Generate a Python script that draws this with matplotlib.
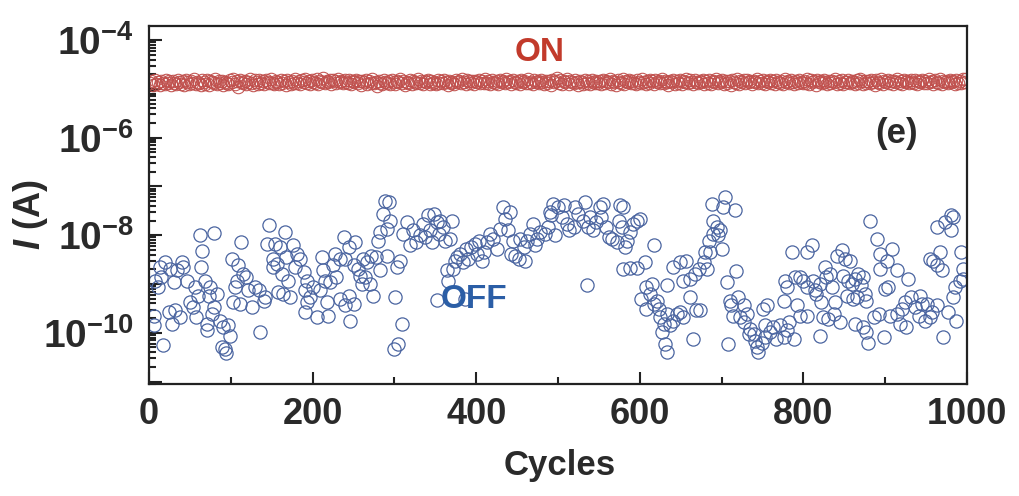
import matplotlib
matplotlib.use('Agg')
import matplotlib.pyplot as plt
import numpy as np
from matplotlib.ticker import LogLocator, MultipleLocator, FuncFormatter, NullFormatter

plt.rcParams['font.family'] = ['Liberation Sans', 'DejaVu Sans']
plt.rcParams['mathtext.fontset'] = 'custom'
plt.rcParams['mathtext.rm'] = 'Liberation Sans:bold'
plt.rcParams['mathtext.bf'] = 'Liberation Sans:bold'
plt.rcParams['mathtext.it'] = 'Liberation Sans:bold:italic'
plt.rcParams['mathtext.bfit'] = 'Liberation Sans:bold:italic'
plt.rcParams['axes.unicode_minus'] = False

# ---------------- data ----------------
on_step = 2  # ON state read every 2 cycles
on_current_e5 = [  # ON current, in units of 1e-5 A
    1.32,1.45,1.22,1.51,1.28,1.40,1.18,1.47,1.35,1.26,1.55,1.30,1.42,1.20,1.48,1.33,1.25,1.52,1.38,1.29,1.44,1.21,1.50,1.36,1.27,
    1.46,1.31,1.58,1.24,1.41,1.34,1.19,1.49,1.37,1.28,1.53,1.23,1.45,1.39,1.30,1.56,1.26,1.43,1.33,1.48,1.22,1.40,1.35,1.29,1.51,
    1.38,1.62,1.27,1.44,1.11,1.52,1.36,1.30,1.47,1.25,1.41,1.57,1.32,1.20,1.49,1.37,1.28,1.54,1.34,1.43,1.26,1.50,1.39,1.31,1.60,
    1.35,1.24,1.48,1.40,1.29,1.55,1.33,1.45,1.21,1.52,1.38,1.27,1.46,1.34,1.58,1.30,1.42,1.25,1.50,1.37,1.63,1.32,1.44,1.28,1.53,
    1.41,1.35,1.60,1.27,1.48,1.39,1.66,1.31,1.45,1.36,1.54,1.29,1.50,1.42,1.33,1.57,1.38,1.46,1.30,1.52,1.40,1.34,1.49,1.26,1.44,
    1.37,1.55,1.31,1.47,1.23,1.42,1.36,1.51,1.28,1.45,1.34,1.58,1.30,1.40,1.14,1.48,1.35,1.27,1.53,1.39,1.32,1.46,1.25,1.50,1.38,
    1.29,1.44,1.36,1.56,1.31,1.48,1.22,1.41,1.35,1.53,1.27,1.45,1.38,1.30,1.59,1.34,1.47,1.24,1.42,1.37,1.51,1.28,1.46,1.33,1.40,
    1.26,1.49,1.35,1.43,1.30,1.55,1.38,1.23,1.47,1.34,1.41,1.28,1.52,1.36,1.45,1.31,1.57,1.39,1.27,1.50,1.42,1.33,1.48,1.25,1.44,
    1.37,1.54,1.30,1.46,1.35,1.61,1.32,1.43,1.28,1.51,1.40,1.34,1.47,1.26,1.53,1.38,1.45,1.31,1.56,1.36,1.42,1.29,1.49,1.39,1.33,
    1.47,1.27,1.52,1.38,1.44,1.30,1.58,1.35,1.41,1.24,1.50,1.37,1.46,1.32,1.55,1.40,1.28,1.48,1.34,1.43,1.21,1.51,1.36,1.45,1.65,
    1.34,1.50,1.28,1.43,1.37,1.56,1.25,1.46,1.40,1.31,1.53,1.36,1.22,1.48,1.39,1.29,1.55,1.33,1.44,1.27,1.51,1.38,1.30,1.47,1.35,
    1.42,1.26,1.54,1.32,1.45,1.39,1.60,1.29,1.48,1.36,1.23,1.50,1.41,1.33,1.57,1.28,1.46,1.37,1.52,1.30,1.43,1.35,1.26,1.49,1.40,
    1.31,1.56,1.38,1.27,1.47,1.34,1.53,1.42,1.25,1.50,1.36,1.44,1.30,1.59,1.33,1.48,1.39,1.21,1.46,1.37,1.54,1.29,1.43,1.35,1.51,
    1.28,1.45,1.40,1.62,1.32,1.49,1.36,1.24,1.52,1.38,1.30,1.47,1.41,1.55,1.27,1.44,1.34,1.50,1.26,1.43,1.37,1.58,1.31,1.46,1.39,
    1.53,1.29,1.45,1.35,1.48,1.22,1.51,1.40,1.33,1.56,1.27,1.44,1.38,1.49,1.31,1.54,1.36,1.42,1.25,1.47,1.39,1.61,1.30,1.45,1.34,
    1.50,1.28,1.43,1.37,1.55,1.32,1.46,1.24,1.52,1.40,1.34,1.48,1.29,1.57,1.36,1.44,1.31,1.50,1.38,1.26,1.47,1.35,1.53,1.41,1.30,
    1.45,1.33,1.58,1.27,1.49,1.38,1.42,1.23,1.51,1.36,1.46,1.31,1.55,1.39,1.28,1.48,1.34,1.43,1.37,1.60,1.29,1.47,1.35,1.52,1.26,
    1.41,1.36,1.54,1.30,1.46,1.39,1.25,1.50,1.33,1.57,1.42,1.28,1.48,1.35,1.44,1.31,1.53,1.38,1.22,1.49,1.40,1.34,1.56,1.29,1.45,
    1.37,1.52,1.32,1.47,1.27,1.43,1.39,1.59,1.34,1.48,1.25,1.51,1.36,1.44,1.30,1.55,1.41,1.33,1.49,1.28,1.46,1.38,1.53,1.35,1.42,
    1.31,1.56,1.37,1.45,1.29,1.50,1.40,1.34,1.58,1.27,1.47,1.36,1.43,1.32,1.54,1.39,1.46,1.24,1.52,1.35,1.44,1.30,1.57,1.38,1.63,
]

off_cycle = [
    6,6,17,7,11,15,13,20,26,30,34,40,42,46,24,32,28,38,50,54,58,56,60,62,79,65,63,68,75,73,
    83,79,77,71,71,87,91,97,99,89,93,94,101,109,113,107,105,103,111,115,119,121,126,130,134,136,140,142,147,144,
    152,151,154,160,166,168,156,162,170,176,178,181,185,158,164,172,189,193,191,197,193,191,201,205,209,211,213,215,217,219,
    221,225,229,227,234,238,240,245,252,234,240,244,250,246,250,256,258,262,266,260,264,270,274,272,278,280,282,286,293,289,
    295,291,282,291,301,303,307,309,299,305,311,315,319,323,327,331,
    335,341,348,352,343,337,346,356,360,362,368,370,354,352,386,366,364,372,374,380,376,384,390,388,394,399,403,407,401,409,
    413,417,421,425,429,433,435,441,439,445,443,447,454,452,460,458,462,466,470,472,474,478,484,490,488,492,496,494,500,507,
    505,511,513,519,521,525,533,531,537,539,543,547,551,555,553,559,562,566,572,576,580,574,578,582,584,588,592,596,600,535,
    580,588,596,606,617,602,608,613,615,617,621,623,608,625,633,629,641,637,627,631,633,645,649,653,661,669,665,633,641,649,
    657,653,661,667,672,
    688,704,702,716,690,694,698,696,690,684,680,686,700,678,682,674,706,718,710,712,720,727,714,723,731,727,735,733,739,741,
    743,745,749,753,753,755,751,759,763,767,771,776,782,780,788,708,776,778,780,786,790,796,800,804,810,804,792,796,804,812,
    814,816,820,822,820,826,828,833,835,824,830,837,839,841,847,851,857,845,849,855,859,863,865,867,873,871,875,877,853,861,
    863,873,879,877,886,892,881,890,894,902,908,900,904,894,914,928,898,906,914,920,918,926,924,932,936,943,945,951,941,949,
    955,957,963,971,977,987,983,985,991,995,995,993,955,959,963,967,969,963,973,981,981,983,
]

off_log10_A = [
    -9.65,-9.85,-10.26,-8.93,-9.07,-8.86,-8.65,-8.55,-8.69,-8.96,-8.72,-8.55,-8.65,-8.93,-9.58,-9.54,-9.82,-9.68,-9.37,-9.48,-9.68,-9.07,-9.24,-7.99,-7.96,-8.33,-8.65,-8.93,-9.07,-9.24,
    -9.20,-9.48,-9.61,-9.82,-9.95,-9.75,-9.89,-9.85,-10.06,-10.30,-10.33,-10.42,-8.48,-8.62,-8.13,-8.93,-9.07,-9.37,-9.41,-8.79,-8.86,-9.13,-9.48,-9.07,-9.13,-9.99,-9.34,-9.27,-7.79,-8.18,
    -8.48,-8.65,-8.18,-8.24,-7.94,-8.45,-8.59,-8.79,-8.93,-8.21,-8.65,-8.38,-8.48,-9.17,-9.20,-9.27,-8.76,-8.93,-9.13,-9.27,-9.37,-9.58,-9.07,-9.68,-9.13,-8.45,-8.72,-8.93,-9.37,-9.65,
    -8.96,-8.62,-8.86,-8.38,-8.48,-8.04,-8.48,-8.24,-8.14,-9.31,-9.44,-9.24,-9.41,-9.75,-8.62,-8.69,-8.83,-8.48,-8.55,-9.00,-8.86,-9.00,-9.24,-8.42,-8.45,-8.11,-7.94,-7.56,-7.32,-7.30,
    -7.70,-7.87,-8.72,-8.42,-9.27,-8.65,-8.52,-9.82,-10.33,-10.23,-7.97,-7.73,-8.21,-7.90,-8.14,-8.00,
    -7.76,-7.59,-7.56,-7.73,-7.90,-8.04,-8.14,-7.70,-7.83,-8.11,-8.07,-7.70,-7.97,-9.33,-9.31,-8.93,-8.72,-8.69,-8.52,-8.38,-8.45,-8.55,-8.48,-8.28,-8.24,-8.18,-8.11,-8.52,-8.38,-8.35,
    -8.14,-7.97,-8.07,-8.28,-7.87,-7.42,-7.66,-7.53,-7.90,-8.11,-8.38,-8.42,-8.07,-8.48,-8.52,-8.24,-8.11,-7.97,-7.76,-8.21,-8.07,-7.94,-7.97,-7.53,-7.83,-7.59,-8.00,-7.35,-7.42,-7.39,
    -7.63,-7.76,-7.90,-7.83,-7.42,-7.56,-7.32,-7.70,-7.83,-7.63,-7.90,-7.73,-7.42,-7.35,-7.63,-7.83,-8.04,-8.07,-8.14,-7.39,-7.42,-7.70,-7.83,-8.24,-8.11,-7.94,-7.76,-7.70,-7.66,-9.01,
    -8.69,-8.67,-8.67,-8.55,-8.21,-9.31,-9.07,-9.20,-9.00,-9.41,-9.34,-9.51,-9.51,-9.68,-9.61,-9.82,-9.75,-9.85,-9.99,-10.23,-10.40,-9.61,-9.58,-9.68,-9.27,-9.54,-10.13,-9.03,-8.65,-8.55,
    -8.52,-8.93,-8.89,-8.79,-8.69,
    -7.35,-7.22,-7.42,-7.49,-7.70,-7.83,-7.90,-8.00,-7.97,-8.11,-8.35,-8.35,-8.28,-8.55,-8.69,-9.54,-8.96,-8.74,-9.34,-9.44,-9.27,-9.44,-9.65,-9.68,-9.61,-9.78,-9.92,-10.02,-10.02,-10.16,
    -10.30,-10.40,-10.20,-10.09,-9.85,-9.44,-9.51,-9.99,-9.89,-10.13,-9.85,-10.09,-9.78,-9.95,-10.13,-10.23,-9.34,-8.93,-9.07,-8.35,-8.86,-8.86,-8.93,-8.35,-8.21,-9.07,-9.44,-9.65,-9.65,-8.93,
    -9.13,-9.20,-9.00,-9.37,-10.06,-8.65,-8.86,-8.79,-9.07,-9.68,-9.72,-9.61,-9.37,-8.42,-8.31,-8.48,-8.52,-9.78,-8.83,-8.93,-9.00,-8.89,-9.27,-8.79,-8.86,-9.03,-9.20,-9.34,-9.24,-9.31,
    -9.82,-9.89,-10.20,-9.99,-9.68,-9.61,-7.70,-8.07,-8.38,-8.52,-8.28,-9.10,-9.07,-8.69,-8.72,-8.89,-10.09,-9.65,-9.61,-9.51,-9.82,-9.89,-9.37,-9.27,-9.48,-9.24,-9.41,-9.41,-9.65,-9.75,
    -9.68,-9.58,-9.44,-10.09,-9.58,-9.75,-9.27,-9.07,-8.93,-8.89,-8.69,-8.35,-8.48,-8.52,-8.62,-8.35,-8.72,-7.83,-7.73,-7.59,-7.90,-7.63,
]

x_ticks = [0, 200, 400, 600, 800, 1000]
x_label = 'Cycles'
y_label = r'$\mathbfit{I}$ (A)'

# ---------------- plot ----------------
on_x = np.arange(len(on_current_e5)) * on_step + 1
on_y = np.array(on_current_e5) * 1e-5
off_x = np.array(off_cycle)
off_y = 10.0 ** np.array(off_log10_A)

W, H = 1019, 496
fig = plt.figure(figsize=(W / 100, H / 100), dpi=100)
ax = fig.add_axes([149 / W, 1 - 384 / H, (967 - 149) / W, (384 - 26) / H])

ax.plot(on_x, on_y, linestyle='none', marker='o', markersize=9,
        markerfacecolor='none', markeredgecolor='#c0504d', markeredgewidth=0.75)
ax.plot(off_x, off_y, linestyle='none', marker='o', markersize=9.5,
        markerfacecolor='none', markeredgecolor='#4a64a0', markeredgewidth=0.9)

ax.set_yscale('log')
ax.set_xlim(0, 1000)
ax.set_ylim(10 ** -11.05, 10 ** -3.71)

ax.set_xticks(x_ticks)
ax.xaxis.set_minor_locator(MultipleLocator(100))
ax.yaxis.set_major_locator(LogLocator(base=10, numticks=30))
ax.yaxis.set_minor_locator(LogLocator(base=10, subs=np.arange(2, 10), numticks=30))
ax.yaxis.set_minor_formatter(NullFormatter())


def yfmt(v, pos):
    e = int(round(np.log10(v)))
    return r'$\mathbf{10^{%d}}$' % e if e % 2 == 0 else ''


ax.yaxis.set_major_formatter(FuncFormatter(yfmt))

for sp in ax.spines.values():
    sp.set_linewidth(1.6)
    sp.set_color('#222222')

ax.tick_params(axis='both', which='both', direction='in', top=False, right=False,
               color='#222222', width=1.5)
ax.tick_params(axis='both', which='major', length=9)
ax.tick_params(axis='both', which='minor', length=5)
ax.tick_params(axis='x', which='major', labelsize=26, pad=9, labelcolor='#2a2a2a')
ax.tick_params(axis='y', which='major', labelsize=28, pad=11, labelcolor='#2a2a2a')
for lab in ax.get_xticklabels():
    lab.set_fontweight('bold')

fig.text(560 / W, 1 - 466 / H, x_label, ha='center', va='center',
         fontsize=25, fontweight='bold', color='#2a2a2a')
fig.text(30 / W, 1 - 215 / H, y_label, ha='center', va='center', rotation=90,
         fontsize=26, fontweight='bold', color='#2a2a2a')

ax.text(0.478, 0.927, 'ON', transform=ax.transAxes, ha='center', va='center',
        fontsize=24, fontweight='bold', color='#c23a2b')
ax.text(0.397, 0.235, 'OFF', transform=ax.transAxes, ha='center', va='center',
        fontsize=24, fontweight='bold', color='#2b5ea6')
ax.text(0.914, 0.70, '(e)', transform=ax.transAxes, ha='center', va='center',
        fontsize=25, fontweight='bold', color='#2a2a2a')

fig.savefig('out.png', dpi=100)
